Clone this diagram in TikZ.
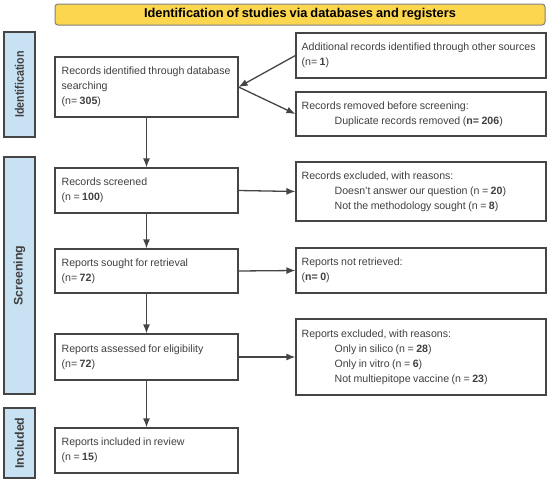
\documentclass[tikz,border=0pt]{standalone}
\usepackage{fontspec}
\setmainfont{Liberation Sans}[WordSpace=0.85]
\usetikzlibrary{arrows.meta}
\definecolor{boxline}{HTML}{454545}
\definecolor{txtgray}{HTML}{404040}
\definecolor{titlefill}{HTML}{FCD64E}
\definecolor{sidefill}{HTML}{C9E2F3}
\tikzset{
  lbox/.style={draw=boxline, line width=1.2pt, fill=white, minimum width=183pt, inner sep=0pt},
  rbox/.style={lbox, minimum width=250pt},
  txt/.style={anchor=west, inner sep=0pt, align=left, text=txtgray, font=\fontsize{10.6}{15}\selectfont},
  side/.style={draw=boxline, line width=1.2pt, fill=sidefill, minimum height=31pt, inner sep=0pt, rotate=90, text=txtgray, font=\bfseries\fontsize{12.4}{14}\selectfont},
  titlebox/.style={draw=black!50, line width=1pt, fill=titlefill, rounded corners=3pt, minimum width=490pt, minimum height=21pt, inner sep=0pt, font=\bfseries\fontsize{12.8}{15}\selectfont},
  flow/.style={draw=boxline, line width=1.3pt, -{Latex[length=9pt,width=7pt]}}
}
\newcommand{\indt}{\hspace*{33pt}}
\begin{document}
\begin{tikzpicture}[x=1pt,y=-1pt]
\useasboundingbox (0,0) rectangle (550,482);
\node[titlebox] (title) at (300,14.5) {Identification of studies via databases and registers};
\node[side, minimum width=105pt] (sid) at (19.5,84.5) {\scalebox{0.86}[1]{Identification}};
\node[side, minimum width=237pt] (sscr) at (19.5,275.5) {Screening};
\node[side, minimum width=70pt] (sinc) at (19.5,443) {Included};

\node[lbox, minimum height=60pt] (rid) at (146.5,87) {};
\node[lbox, minimum height=45pt] (rscr) at (146.5,190.5) {};
\node[lbox, minimum height=44pt] (rsou) at (146.5,271) {};
\node[lbox, minimum height=46pt] (rass) at (146.5,357) {};
\node[lbox, minimum height=45pt] (rinc) at (146.5,450.5) {};
\node[rbox, minimum height=45pt] (add) at (421,55.5) {};
\node[rbox, minimum height=44pt] (rem) at (421,114) {};
\node[rbox, minimum height=59pt] (exc) at (421,191.5) {};
\node[rbox, minimum height=45pt] (nret) at (421,270.5) {};
\node[rbox, minimum height=76pt] (rexc) at (421,357) {};

\node[txt] (ridt) at ([xshift=7pt]rid.west) {Records identified through database\\searching\\(n= \textbf{305})};
\node[txt] (rscrt) at ([xshift=7pt]rscr.west) {Records screened\\(n = \textbf{100})};
\node[txt] (rsout) at ([xshift=7pt]rsou.west) {Reports sought for retrieval\\(n= \textbf{72})};
\node[txt] (rasst) at ([xshift=7pt]rass.west) {Reports assessed for eligibility\\(n= \textbf{72})};
\node[txt] (rinct) at ([xshift=7pt]rinc.west) {Reports included in review\\(n = \textbf{15})};
\node[txt] (addt) at ([xshift=6pt]add.west) {Additional records identified through other sources\\(n= \textbf{1})};
\node[txt] (remt) at ([xshift=6pt]rem.west) {Records removed before screening:\\\indt Duplicate records removed (\textbf{n= 206})};
\node[txt] (exct) at ([xshift=6pt]exc.west) {Records excluded, with reasons:\\\indt Doesn't answer our question (n = \textbf{20})\\\indt Not the methodology sought (n = \textbf{8})};
\node[txt] (nrett) at ([xshift=6pt]nret.west) {Reports not retrieved:\\(\textbf{n= 0})};
\node[txt] (rexct) at ([xshift=6pt]rexc.west) {Reports excluded, with reasons:\\\indt Only in silico (n = \textbf{28})\\\indt Only in vitro (n = \textbf{6})\\\indt Not multiepitope vaccine (n = \textbf{23})};

\draw[flow] (add.west) -- (rid.east);
\draw[flow] (rid.east) -- (rem.west);
\draw[flow] (rid.south) -- (rscr.north);
\draw[flow] (rscr.south) -- (rsou.north);
\draw[flow] (rsou.south) -- (rass.north);
\draw[flow] (rass.south) -- (rinc.north);
\draw[flow] (rscr.east) -- (exc.west);
\draw[flow] (rsou.east) -- (nret.west);
\draw[flow] (rass.east) -- (rexc.west);
\end{tikzpicture}
\end{document}
